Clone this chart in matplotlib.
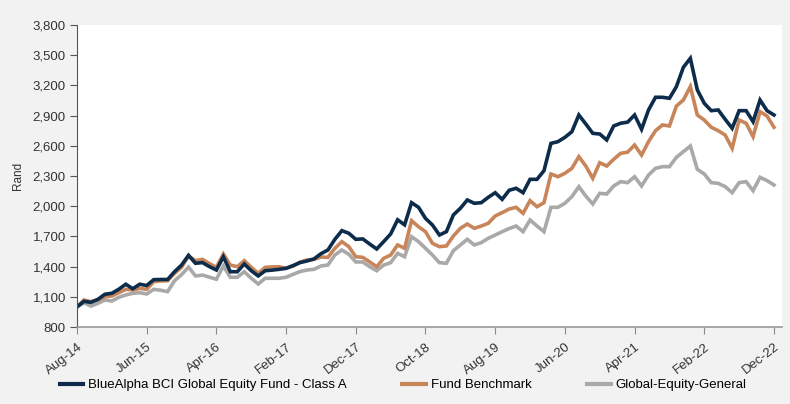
import matplotlib
matplotlib.use("Agg")
import matplotlib.pyplot as plt
from matplotlib.lines import Line2D

plt.rcParams['font.family'] = ['Liberation Sans', 'DejaVu Sans']

tick_labels = ["Aug-14", "Jun-15", "Apr-16", "Feb-17", "Dec-17", "Oct-18",
               "Aug-19", "Jun-20", "Apr-21", "Feb-22", "Dec-22"]

fund = [1000, 1055, 1045, 1075, 1125, 1135, 1175, 1225, 1180, 1225,
        1212, 1270, 1272, 1272, 1350, 1415, 1512, 1433, 1440, 1400,
        1366, 1498, 1349, 1349, 1426, 1359, 1307, 1359, 1365, 1373,
        1383, 1410, 1440, 1456, 1476, 1528, 1565, 1671, 1757, 1731,
        1671, 1675, 1624, 1575, 1648, 1724, 1865, 1815, 2035, 1989,
        1879, 1813, 1714, 1747, 1913, 1979, 2062, 2029, 2035, 2088,
        2134, 2068, 2158, 2178, 2134, 2267, 2267, 2353, 2624, 2641,
        2684, 2740, 2906, 2817, 2724, 2717, 2658, 2797, 2824, 2835,
        2906, 2764, 2956, 3082, 3082, 3072, 3188, 3380, 3469, 3155,
        3022, 2949, 2956, 2863, 2774, 2949, 2949, 2840, 3055, 2949,
        2906]

benchmark = [1000, 1068, 1052, 1068, 1101, 1108, 1141, 1174, 1168, 1184,
             1174, 1250, 1258, 1260, 1333, 1393, 1505, 1459, 1472, 1430,
             1393, 1525, 1415, 1399, 1459, 1393, 1333, 1393, 1397, 1399,
             1383, 1405, 1445, 1466, 1472, 1495, 1492, 1582, 1648, 1598,
             1498, 1492, 1446, 1399, 1482, 1515, 1615, 1582, 1856, 1796,
             1747, 1631, 1598, 1605, 1704, 1780, 1823, 1780, 1803, 1830,
             1903, 1936, 1972, 1989, 1929, 2055, 1995, 2035, 2320, 2293,
             2327, 2376, 2492, 2399, 2277, 2432, 2399, 2466, 2525, 2537,
             2608, 2508, 2641, 2750, 2807, 2797, 2995, 3055, 3188, 2906,
             2856, 2784, 2750, 2707, 2575, 2856, 2824, 2691, 2939, 2896,
             2784]

peers = [1000, 1041, 1008, 1035, 1068, 1058, 1095, 1118, 1135, 1141,
         1128, 1174, 1165, 1151, 1260, 1320, 1395, 1307, 1316, 1295,
         1274, 1406, 1294, 1294, 1349, 1284, 1227, 1284, 1284, 1284,
         1294, 1323, 1351, 1366, 1373, 1406, 1416, 1515, 1565, 1522,
         1446, 1446, 1399, 1359, 1415, 1439, 1532, 1498, 1697, 1648,
         1582, 1515, 1439, 1433, 1558, 1615, 1671, 1615, 1638, 1681,
         1714, 1747, 1778, 1803, 1747, 1863, 1803, 1747, 1989, 1989,
         2029, 2095, 2194, 2101, 2022, 2128, 2121, 2201, 2244, 2234,
         2293, 2201, 2310, 2376, 2393, 2393, 2486, 2542, 2598, 2366,
         2320, 2234, 2227, 2194, 2134, 2234, 2244, 2154, 2287, 2254,
         2211]

series_names = ["BlueAlpha BCI Global Equity Fund - Class A",
                "Fund Benchmark", "Global-Equity-General"]
colors = ["#0d2c4b", "#c9855a", "#a9a9a9"]

fig = plt.figure(figsize=(7.9, 4.04), dpi=100, facecolor="#f2f2f2")
ax = fig.add_axes([77/790, 1-327/404, (782-77)/790, (327-25)/404])
ax.set_facecolor("white")

x = list(range(len(fund)))
for vals, c in zip([peers, benchmark, fund], [colors[2], colors[1], colors[0]]):
    ax.plot(x, vals, color=c, lw=2.6, solid_joinstyle="miter")

ax.set_xlim(0, 101.15)
ax.set_ylim(800, 3800)
ax.set_yticks(range(800, 3801, 300))
ax.set_yticklabels([f"{v:,}" for v in range(800, 3801, 300)], fontsize=9.5, color="#333333")
ax.set_xticks(range(0, 101, 10))
ax.set_xticklabels(tick_labels, rotation=38, ha="right", rotation_mode="anchor",
                   fontsize=9.5, color="#333333")
ax.tick_params(axis="y", length=5, width=0.8, color="#555555", pad=3)
ax.tick_params(axis="x", length=5, width=0.8, color="#888888", pad=5)

for s in ["top", "right"]:
    ax.spines[s].set_visible(False)
ax.spines["left"].set_color("#555555")
ax.spines["bottom"].set_color("#999999")
ax.spines["bottom"].set_linewidth(1.2)

ax.set_ylabel("Rand", fontsize=8.5, color="#333333", labelpad=6)

handles = [Line2D([], [], color=c, lw=3) for c in colors]
fig.legend(handles, series_names, loc="center", bbox_to_anchor=(0.51, 0.047),
           ncol=3, frameon=False, handlelength=1.8, handletextpad=0.35,
           columnspacing=4.2, fontsize=9.5)

fig.savefig("out.png", dpi=100, facecolor=fig.get_facecolor())
